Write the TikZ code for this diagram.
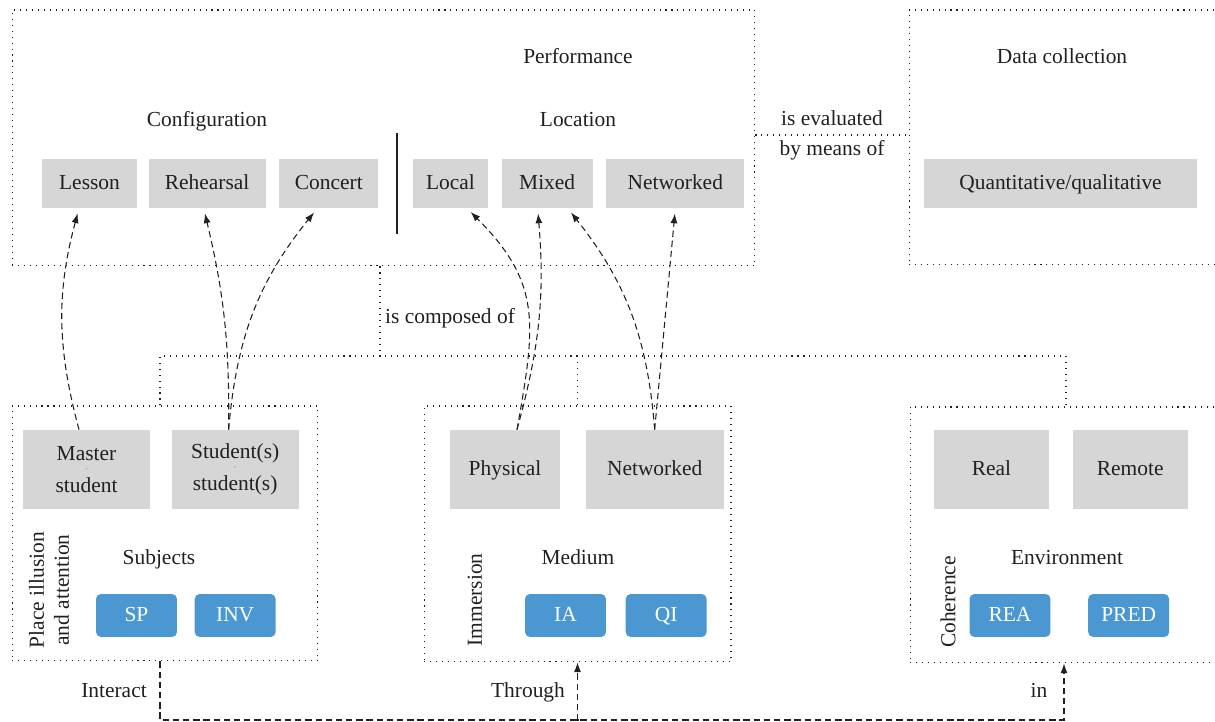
\documentclass[tikz,border=0pt]{standalone}
\usepackage{fontspec}
\setmainfont{Liberation Serif}
\usetikzlibrary{positioning}
\usetikzlibrary{arrows.meta}
\definecolor{ink}{HTML}{231F20}
\definecolor{boxgray}{HTML}{D6D6D6}
\definecolor{boxblue}{HTML}{4B97D2}
\definecolor{dashgray}{HTML}{9A9A9A}
\tikzset{
  every node/.style={font=\fontsize{12.2}{17}\selectfont,text=ink},
  dotbox/.style={draw=ink,line width=0.6pt,dash pattern=on 0.6pt off 2.8pt,inner sep=0},
  link/.style={draw=ink,line width=0.6pt,dash pattern=on 3.6pt off 2.2pt},
  headed/.style={-{Latex[length=5.5pt,width=4pt]}},
  gbox/.style={fill=boxgray,minimum height=0.98cm,text height=1.5ex,text depth=0pt},
  tallbox/.style={gbox,minimum height=1.58cm},
  pairbox/.style={fill=boxgray,minimum width=2.54cm,minimum height=1.58cm,align=center,font=\fontsize{12.2}{9}\selectfont},
  bbox/.style={fill=boxblue,rounded corners=0.1cm,minimum width=1.62cm,minimum height=0.86cm,text=white,text height=1.5ex,text depth=0pt},
  lbl/.style={anchor=base,inner sep=0},
  side/.style={rotate=90,align=center,font=\fontsize{12.2}{14.2}\selectfont}
}
\newcommand{\pairdash}{\\[-2.8pt]{\color{dashgray}\tiny -}\\[2.9pt]}

\begin{document}
\begin{tikzpicture}[x=0.02cm,y=-0.02cm]
  \useasboundingbox (0,0) rectangle (1215,722);
  % frames
  \node[dotbox,minimum width=14.86cm,minimum height=5.12cm] (perf) at (383.5,138) {};
  \node[dotbox,minimum width=6.18cm,minimum height=5.1cm] (data) at (1063.5,137.5) {};
  \node[dotbox,minimum width=6.12cm,minimum height=5.1cm] (subj) at (165,533.5) {};
  \node[dotbox,minimum width=6.14cm,minimum height=5.12cm] (med) at (577.5,534) {};
  \node[dotbox,minimum width=6.16cm,minimum height=5.12cm] (env) at (1064,535) {};

  % performance
  \node[lbl] (perftitle) at (578,64) {Performance};
  \node[lbl] (conftitle) at (207,127) {Configuration};
  \node[lbl] (loctitle) at (578,127) {Location};
  \draw[ink,line width=0.7pt] (397,133) -- (397,234);
  \node[gbox,minimum width=1.9cm] (lesson) at (89.5,183.5) {Lesson};
  \node[gbox,minimum width=2.34cm,right=0.22cm of lesson] (rehearsal) {Rehearsal};
  \node[gbox,minimum width=1.98cm,right=0.26cm of rehearsal] (concert) {Concert};
  \node[gbox,minimum width=1.5cm] (local) at (450.5,183.5) {Local};
  \node[gbox,minimum width=1.82cm,right=0.26cm of local] (mixed) {Mixed};
  \node[gbox,minimum width=2.76cm,right=0.26cm of mixed] (netw) {Networked};

  % data collection
  \node[lbl] (datatitle) at (1062,64) {Data collection};
  \node[gbox,minimum width=5.46cm] (quant) at (1060.5,183.5) {Quantitative/qualitative};
  \node[align=center] (evalby) at (832,135) {is evaluated\\by means of};
  \draw[dotbox] (perf.east |- evalby) -- (data.west |- evalby);

  % composition
  \coordinate (bus) at (380,356);
  \node[lbl] (composed) at (450,324) {is composed of};
  \draw[dotbox] (bus |- perf.south) -- (bus);
  \draw[dotbox] ([xshift=-0.1cm]subj.north) |- (bus) -| ([xshift=0.04cm]env.north);
  \draw[dotbox] (med.north |- bus) -- (med.north);

  % subjects
  \node[pairbox] (ms) at (86.5,469.5) {Master\pairdash student};
  \node[pairbox,right=0.42cm of ms] (ss) {Student(s)\pairdash student(s)};
  \node[lbl] (subjtitle) at (159,565) {Subjects};
  \node[side] (placetitle) at (49,590) {Place illusion\\and attention};
  \node[bbox] (sp) at (136.5,615.5) {SP};
  \node[bbox,right=0.34cm of sp] (inv) {INV};

  % medium
  \node[tallbox,minimum width=2.2cm] (phys) at (505,469.5) {Physical};
  \node[tallbox,minimum width=2.76cm,right=0.5cm of phys] (netw2) {Networked};
  \node[lbl] (medtitle) at (578,565) {Medium};
  \node[side] (immtitle) at (475,600) {Immersion};
  \node[bbox] (ia) at (565.5,615.5) {IA};
  \node[bbox,right=0.38cm of ia] (qi) {QI};

  % environment
  \node[tallbox,minimum width=2.3cm] (real) at (991.5,469.5) {Real};
  \node[tallbox,minimum width=2.3cm,right=0.46cm of real] (remote) {Remote};
  \node[lbl] (envtitle) at (1067,565) {Environment};
  \node[side] (cohtitle) at (948,602) {Coherence};
  \node[bbox] (rea) at (1010,615.5) {REA};
  \node[bbox,right=0.74cm of rea] (pred) {PRED};

  % links to performance
  \draw[link,headed,shorten >=3pt] ([xshift=-0.15cm]ms.north) to[bend left=15] ([xshift=-0.21cm]lesson.south);
  \draw[link,headed,shorten >=3pt] ([xshift=-0.13cm]ss.north) to[bend right=7] ([xshift=-0.07cm]rehearsal.south);
  \draw[link,headed,shorten >=3pt] ([xshift=-0.13cm]ss.north) to[bend left=17] ([xshift=-0.23cm]concert.south);
  \draw[link,headed,shorten >=3pt] ([xshift=0.24cm]phys.north) to[out=80,in=-45,looseness=1.2] ([xshift=0.33cm]local.south);
  \draw[link,headed,shorten >=3pt] ([xshift=0.24cm]phys.north) to[bend right=10] ([xshift=-0.19cm]mixed.south);
  \draw[link,headed,shorten >=3pt] (netw2.north) to[bend right=17] ([xshift=0.41cm]mixed.south);
  \draw[link,headed,shorten >=3pt] (netw2.north) -- (netw.south);

  % bottom links
  \coordinate (bottomjoin) at (578,720);
  \node[lbl] (interact) at (114,698) {Interact};
  \node[lbl] (through) at (528,698) {Through};
  \node[lbl] (inlbl) at (1039,698) {in};
  \draw[link,headed] ([xshift=-0.1cm]subj.south) |- (bottomjoin) -| (env.south);
  \draw[link,headed] (bottomjoin) -- (med.south |- bottomjoin) -- (med.south);
\end{tikzpicture}
\end{document}
